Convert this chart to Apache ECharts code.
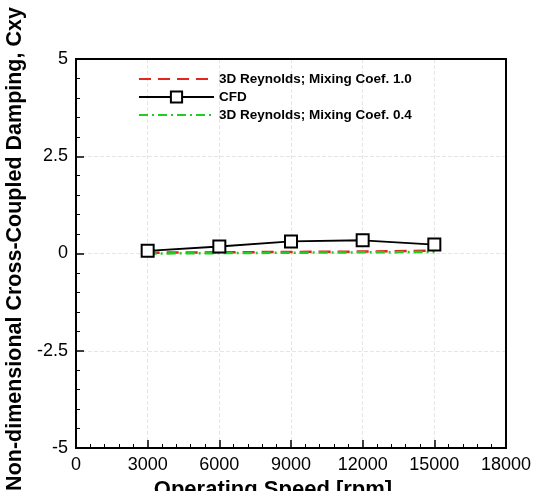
<!DOCTYPE html>
<html>
<head>
<meta charset="utf-8">
<script src="https://cdn.jsdelivr.net/npm/echarts@6/dist/echarts.min.js"></script>
<style>
html,body{margin:0;padding:0;background:#fff;overflow:hidden;}
#c{width:548px;height:491px;}
</style>
</head>
<body>
<div id="c"></div>
<script>
const speeds = [3000, 6000, 9000, 12000, 15000];
const reynolds10 = [0.02, 0.03, 0.04, 0.05, 0.07];
const cfd = [0.07, 0.18, 0.31, 0.34, 0.23];
const reynolds04 = [0.0, 0.01, 0.02, 0.03, 0.04];
const seriesNames = ['3D Reynolds; Mixing Coef. 1.0', 'CFD', '3D Reynolds; Mixing Coef. 0.4'];
const xTitle = 'Operating Speed [rpm]';
const yTitle = 'Non-dimensional Cross-Coupled Damping, Cxy';

const pairs = arr => speeds.map((s, i) => [s, arr[i]]);
const FONT = '"Liberation Sans", Arial, sans-serif';

const chart = echarts.init(document.getElementById('c'), null, {renderer: 'canvas'});
chart.setOption({
  animation: false,
  backgroundColor: '#fff',
  grid: {left: 76, right: 42, top: 59, bottom: 43, show: true, borderColor: '#000', borderWidth: 2,
         containLabel: false, outerBoundsMode: 'none', z: 3},
  legend: {
    left: 133, top: 67, orient: 'vertical', itemGap: 4, itemWidth: 75, itemHeight: 14,
    textStyle: {fontFamily: FONT, fontWeight: 'bold', fontSize: 13.5, color: '#000'},
    data: [
      {name: seriesNames[0], itemStyle: {opacity: 0}},
      {name: seriesNames[1]},
      {name: seriesNames[2], itemStyle: {opacity: 0}}
    ]
  },
  xAxis: {
    type: 'value', min: 0, max: 18000, interval: 3000,
    name: xTitle, nameLocation: 'middle', nameGap: 28,
    nameTextStyle: {fontFamily: FONT, fontWeight: 'bold', fontSize: 22, color: '#000', padding: [0, 36, 0, 0]},
    axisLine: {show: true, onZero: false, lineStyle: {color: '#000', width: 2}},
    axisTick: {show: true, inside: true, length: 8, lineStyle: {color: '#000', width: 1.5}},
    minorTick: {show: true, splitNumber: 5, length: 4, lineStyle: {color: '#000', width: 1}},
    axisLabel: {fontFamily: FONT, fontSize: 18, color: '#000', margin: 8,
                formatter: v => String(v)},
    splitLine: {show: true, showMinLine: false, showMaxLine: false,
                lineStyle: {color: '#e6e6e6', type: 'dashed', width: 1}}
  },
  yAxis: {
    type: 'value', min: -5, max: 5, interval: 2.5,
    name: yTitle, nameLocation: 'middle', nameGap: 46,
    nameTextStyle: {fontFamily: FONT, fontWeight: 'bold', fontSize: 21.5, color: '#000', padding: [0, 0, 0, 9]},
    axisLine: {show: true, onZero: false, lineStyle: {color: '#000', width: 2}},
    axisTick: {show: true, inside: true, length: 8, lineStyle: {color: '#000', width: 1.5}},
    minorTick: {show: true, splitNumber: 5, length: 4, lineStyle: {color: '#000', width: 1}},
    axisLabel: {fontFamily: FONT, fontSize: 18, color: '#000', margin: 8},
    splitLine: {show: true, showMinLine: false, showMaxLine: false,
                lineStyle: {color: '#e6e6e6', type: 'dashed', width: 1}}
  },
  series: [
    {
      name: seriesNames[0], type: 'line', data: pairs(reynolds10), symbol: 'none', z: 3,
      lineStyle: {color: '#e0261f', width: 2.5, type: [12, 7]},
      itemStyle: {color: '#e0261f'}
    },
    {
      name: seriesNames[2], type: 'line', data: pairs(reynolds04), symbol: 'none', z: 4,
      lineStyle: {color: '#22cc22', width: 2.5, type: [9, 4, 2, 4]},
      itemStyle: {color: '#22cc22'}
    },
    {
      name: seriesNames[1], type: 'line', data: pairs(cfd), symbol: 'rect', symbolSize: 12, z: 5,
      lineStyle: {color: '#000', width: 1.8},
      itemStyle: {color: '#fff', borderColor: '#000', borderWidth: 2}
    }
  ]
});
</script>
</body>
</html>
